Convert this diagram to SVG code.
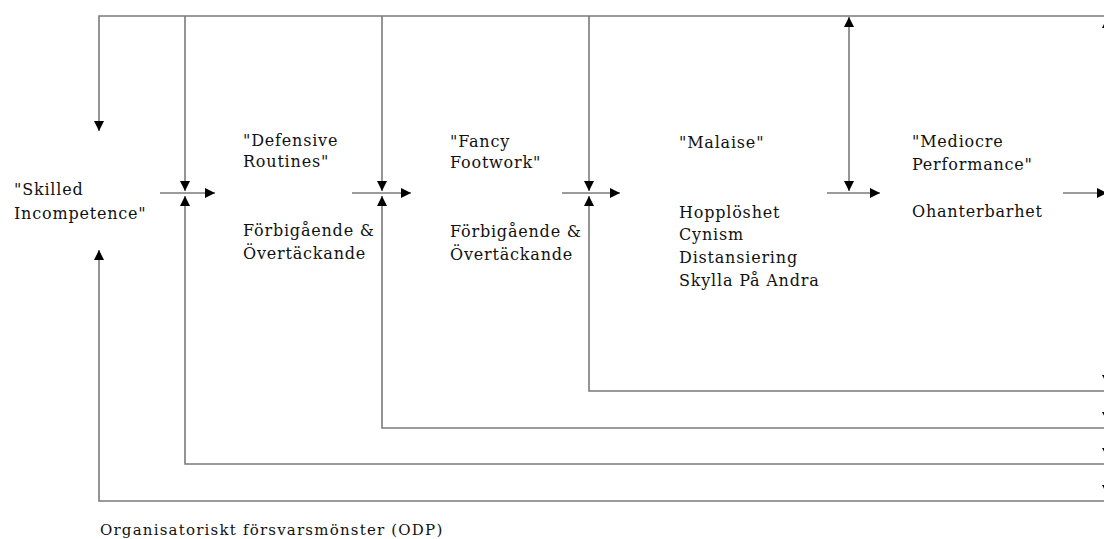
<svg xmlns="http://www.w3.org/2000/svg" width="1104" height="539" viewBox="0 0 1104 539">
<style>
.ln{fill:none;stroke:#7a7a7a;stroke-width:1.6}
.hd{fill:#000}
.t{font-family:"DejaVu Serif",serif;font-size:16px;letter-spacing:0.8px;fill:#111}
.c{font-family:"DejaVu Serif",serif;font-size:15px;letter-spacing:1.2px;fill:#111}
</style>
<defs>
<marker id="ah" markerUnits="userSpaceOnUse" viewBox="0 0 10 10" refX="10" refY="5" markerWidth="11" markerHeight="10" orient="auto-start-reverse">
<path d="M0,0 L10,5 L0,10 Z" class="hd"/>
</marker>
</defs>
<rect width="1104" height="539" fill="#fff"/>
<g id="connectors">
<path class="ln" d="M1104,16 H99 V131" marker-end="url(#ah)"/>
<path class="ln" d="M1104,501 H99 V250" marker-end="url(#ah)"/>
<path class="ln" d="M185,16 V191" marker-end="url(#ah)"/>
<path class="ln" d="M1104,464 H185 V196" marker-end="url(#ah)"/>
<path class="ln" d="M382,16 V191" marker-end="url(#ah)"/>
<path class="ln" d="M1104,428 H382 V196" marker-end="url(#ah)"/>
<path class="ln" d="M589,16 V191" marker-end="url(#ah)"/>
<path class="ln" d="M1104,391 H589 V196" marker-end="url(#ah)"/>
<path class="ln" d="M849,17 V191" marker-start="url(#ah)" marker-end="url(#ah)"/>
<path class="ln" d="M160,193 H215" marker-end="url(#ah)"/>
<path class="ln" d="M352,193 H411" marker-end="url(#ah)"/>
<path class="ln" d="M562,193 H620" marker-end="url(#ah)"/>
<path class="ln" d="M827,193 H880" marker-end="url(#ah)"/>
<path class="ln" d="M1063,193 H1107" marker-end="url(#ah)"/>
<path class="hd" d="M1107,18 L1112,28 L1102,28 Z"/>
<path class="hd" d="M1107,384 L1112,375 L1102,375 Z"/>
<path class="hd" d="M1107,421 L1112,412 L1102,412 Z"/>
<path class="hd" d="M1107,457 L1112,448 L1102,448 Z"/>
<path class="hd" d="M1107,494 L1112,485 L1102,485 Z"/>
</g>
<g id="skilled">
<text class="t" x="14" y="195">"Skilled</text>
<text class="t" x="14" y="219">Incompetence"</text>
</g>
<g id="defensive">
<text class="t" x="243" y="146">"Defensive</text>
<text class="t" x="243" y="167">Routines"</text>
<text class="t" x="243" y="236">Förbigående &amp;</text>
<text class="t" x="243" y="259">Övertäckande</text>
</g>
<g id="fancy">
<text class="t" x="450" y="147">"Fancy</text>
<text class="t" x="450" y="168">Footwork"</text>
<text class="t" x="450" y="237">Förbigående &amp;</text>
<text class="t" x="450" y="260">Övertäckande</text>
</g>
<g id="malaise">
<text class="t" x="679" y="148">"Malaise"</text>
<text class="t" x="679" y="218">Hopplöshet</text>
<text class="t" x="679" y="240">Cynism</text>
<text class="t" x="679" y="263">Distansiering</text>
<text class="t" x="679" y="286">Skylla På Andra</text>
</g>
<g id="mediocre">
<text class="t" x="912" y="147">"Mediocre</text>
<text class="t" x="912" y="170">Performance"</text>
<text class="t" x="912" y="217">Ohanterbarhet</text>
</g>
<g id="caption">
<text class="c" x="100" y="535">Organisatoriskt försvarsmönster (ODP)</text>
</g>
</svg>
